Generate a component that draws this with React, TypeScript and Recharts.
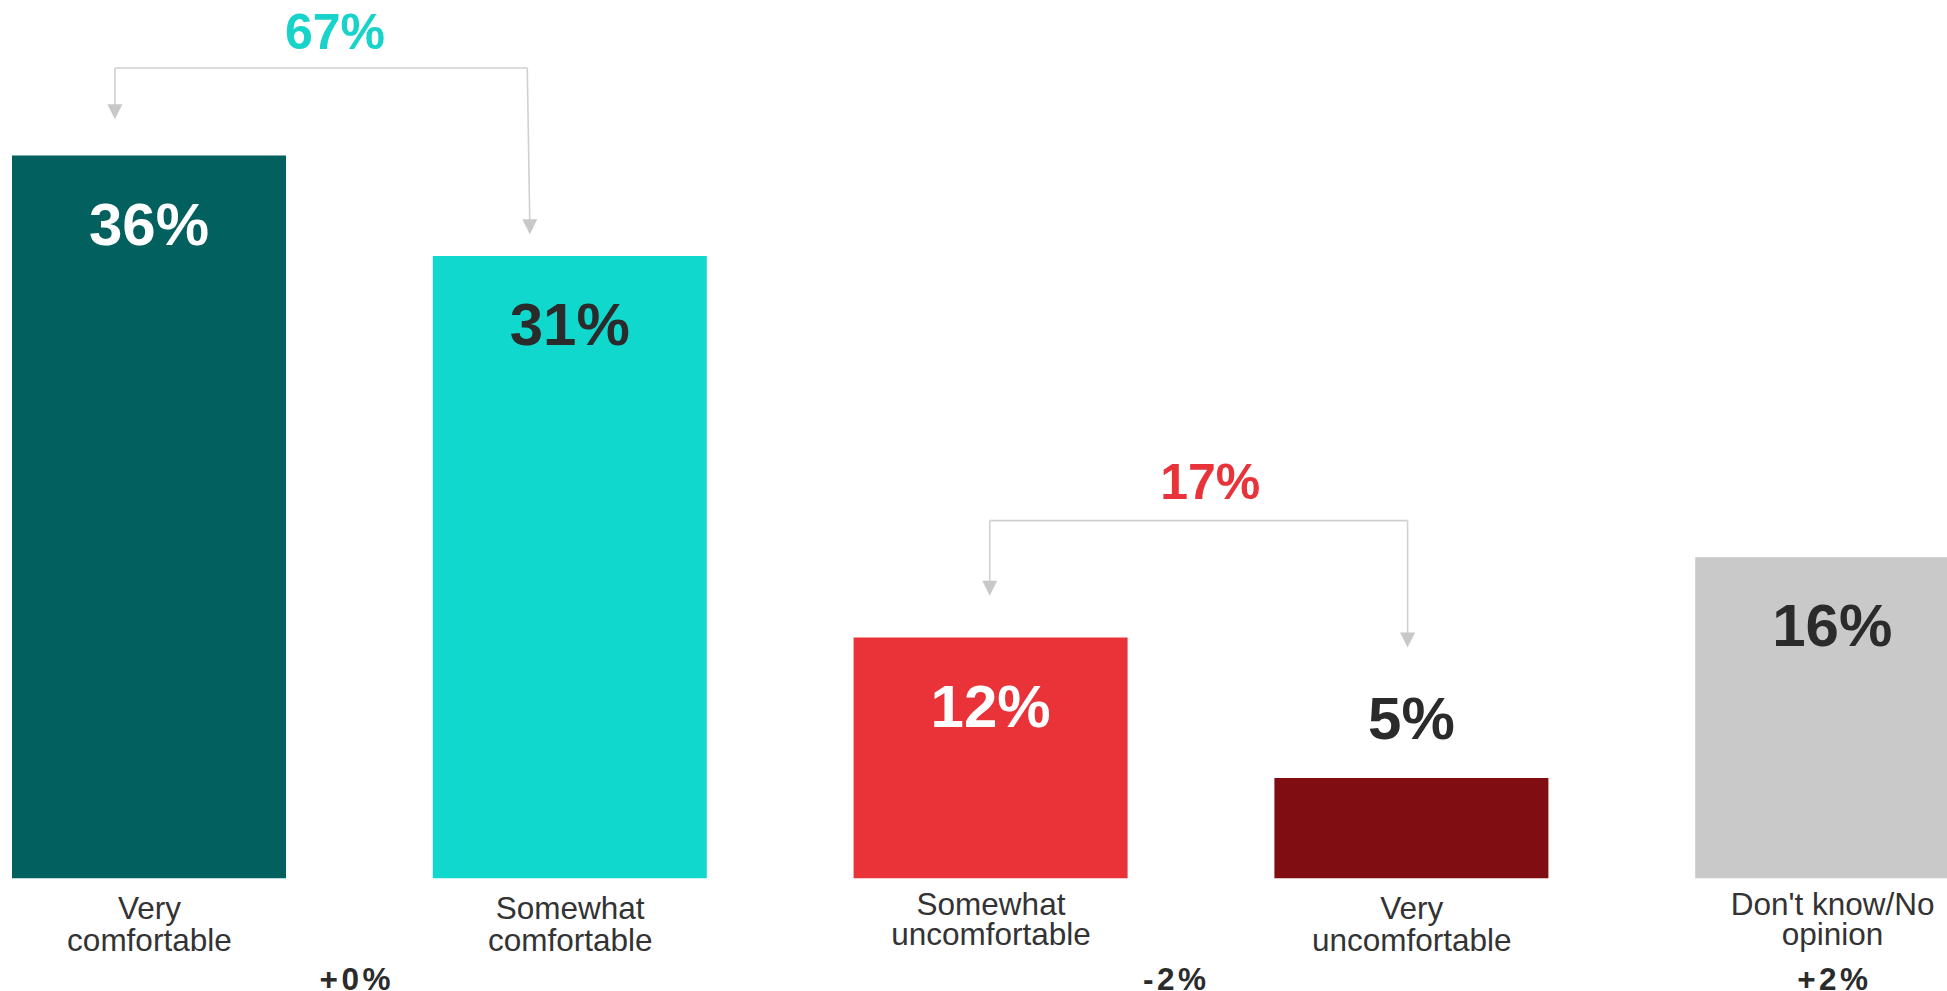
import React from 'react';
import { BarChart, Bar, XAxis, YAxis, Cell, LabelList, ReferenceLine, ReferenceDot } from 'recharts';

// ---- data ----
const categories = ['Very comfortable', 'Somewhat comfortable', 'Somewhat uncomfortable', 'Very uncomfortable', "Don't know/No opinion"];
const categoryLines = [['Very', 'comfortable'], ['Somewhat', 'comfortable'], ['Somewhat', 'uncomfortable'], ['Very', 'uncomfortable'], ["Don't know/No", 'opinion']];
const values = [36, 31, 12, 5, 16];
const barColors = ['#02605e', '#10d8cd', '#e93339', '#800d11', '#c9c9c9'];
const labelColors = ['#ffffff', '#2b2b2b', '#ffffff', '#2b2b2b', '#2b2b2b'];
const labelInside = [true, true, true, false, true];

const netLabels = ['67%', '17%'];
const netColors = ['#18d3c9', '#e8333a'];
const deltaLabels = ['+0%', '-2%', '+2%'];

const data = categories.map((name, i) => ({ pos: i, name, value: values[i] }));

// ---- annotation layout (data units) ----
const brackets = [
  { textX: 0.441, textY: 41.31, lineY: 40.36, left: { x: -0.082, tipY: 37.81 }, right: { xTop: 0.898, xBot: 0.904, tipY: 32.08 } },
  { textX: 2.521, textY: 18.9, lineY: 17.82, left: { x: 1.997, tipY: 14.08 }, right: { xTop: 2.99, xBot: 2.99, tipY: 11.51 } },
];
const deltaX = [0.4885, 2.436, 4.0];
const deltaY = -5.55;
// per-category label baseline offsets (px below axis) and line spacing
const tickBaseline = [40.5, 40.5, 36.5, 40.5, 36.5];
const tickLineGap = [31.5, 31.5, 30, 31.5, 29.5];

const FONT = '"Liberation Sans", Arial, Helvetica, sans-serif';
const LINE = '#d0d0d0';
const ARROW = '#c8c8c8';

const CategoryTick = (props: any) => {
  const { x, y, payload } = props;
  const idx = payload.value;
  const lines = categoryLines[idx] || [];
  return (
    <g>
      {lines.map((l: string, i: number) => (
        <text key={i} x={x} y={y + tickBaseline[idx] + i * tickLineGap[idx]} textAnchor="middle" fontFamily={FONT} fontSize={31.5} fill="#333333">
          {l}
        </text>
      ))}
    </g>
  );
};

const ValueLabel = (props: any) => {
  const { x, y, width, value } = props;
  let index = props.index;
  if (index === undefined) index = values.indexOf(value);
  const inside = labelInside[index];
  const ty = inside ? y + 89 : y - 39.4;
  return (
    <text x={x + width / 2} y={ty} textAnchor="middle" fontFamily={FONT} fontWeight="bold" fontSize={60} fill={labelColors[index]}>
      {value}%
    </text>
  );
};

const arrowShape = (props: any) => {
  const { cx, cy } = props;
  return <path d={`M${cx - 7.5},${cy - 15} L${cx + 7.5},${cy - 15} L${cx},${cy} Z`} fill={ARROW} />;
};

const textShape = (label: string, color: string, size: number, spacing: number) => (props: any) => {
  const { cx, cy } = props;
  return (
    <text x={cx + spacing / 2} y={cy} textAnchor="middle" fontFamily={FONT} fontWeight="bold" fontSize={size} fill={color} letterSpacing={spacing}>
      {label}
    </text>
  );
};

export default function App() {
  return (
    <div style={{ position: 'fixed', left: 0, top: 0, width: 1947, height: 991, overflow: 'hidden', background: '#fff' }}>
      <div style={{ position: 'absolute', left: -61.4, top: 0 }}>
        <BarChart width={2104} height={991} data={data} margin={{ top: 0, right: 0, left: 0, bottom: 0 }}>
          <XAxis
            type="number"
            dataKey="pos"
            domain={[-0.5, 4.5]}
            ticks={[0, 1, 2, 3, 4]}
            allowDataOverflow
            interval={0}
            axisLine={false}
            tickLine={false}
            tickSize={0}
            tickMargin={0}
            height={112.5}
            tick={<CategoryTick />}
          />
          <YAxis type="number" domain={[0, 43.75]} allowDataOverflow hide />
          <Bar dataKey="value" barSize={274} isAnimationActive={false}>
            {data.map((d, i) => (
              <Cell key={i} fill={barColors[i]} />
            ))}
            <LabelList dataKey="value" content={<ValueLabel />} />
          </Bar>
          {brackets.map((b, i) => (
            <React.Fragment key={i}>
              <ReferenceLine segment={[{ x: b.left.x, y: b.lineY }, { x: b.right.xTop, y: b.lineY }]} stroke={LINE} strokeWidth={1.6} ifOverflow="visible" />
              <ReferenceLine segment={[{ x: b.left.x, y: b.lineY }, { x: b.left.x, y: b.left.tipY + 0.5 }]} stroke={LINE} strokeWidth={1.6} ifOverflow="visible" />
              <ReferenceLine segment={[{ x: b.right.xTop, y: b.lineY }, { x: b.right.xBot, y: b.right.tipY + 0.5 }]} stroke={LINE} strokeWidth={1.6} ifOverflow="visible" />
              <ReferenceDot x={b.left.x} y={b.left.tipY} r={0} ifOverflow="visible" shape={arrowShape} />
              <ReferenceDot x={b.right.xBot} y={b.right.tipY} r={0} ifOverflow="visible" shape={arrowShape} />
              <ReferenceDot x={b.textX} y={b.textY} r={0} ifOverflow="visible" shape={textShape(netLabels[i], netColors[i], 50, 0)} />
            </React.Fragment>
          ))}
          {deltaLabels.map((t, i) => (
            <ReferenceDot key={'d' + i} x={deltaX[i]} y={deltaY} r={0} ifOverflow="visible" shape={textShape(t, '#2b2b2b', 31.5, 3.5)} />
          ))}
        </BarChart>
      </div>
    </div>
  );
}
